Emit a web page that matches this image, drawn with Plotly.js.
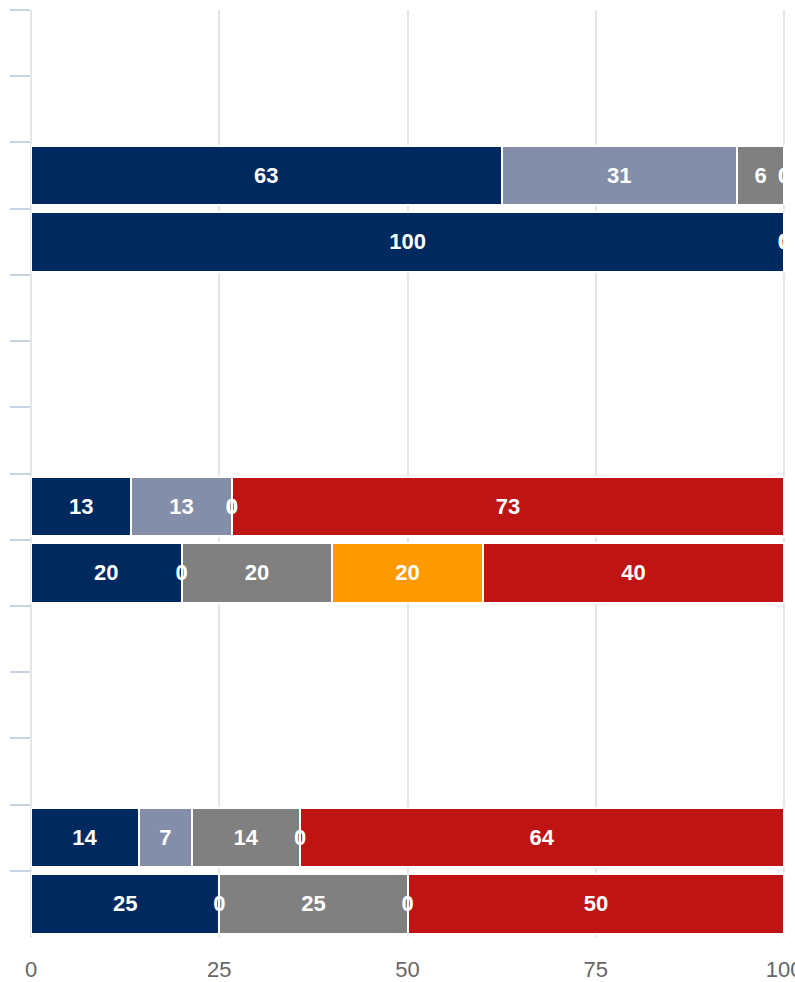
<!DOCTYPE html>
<html>
<head>
<meta charset="utf-8">
<script src="https://cdn.plot.ly/plotly-3.0.1.min.js"></script>
<style>html,body{margin:0;padding:0;background:#fff;}#chart{width:795px;height:982px;}</style>
</head>
<body>
<div id="chart"></div>
<script>
// 14 rows, top to bottom (empty rows have no data)
var categories = ['r1','r2','r3','r4','r5','r6','r7','r8','r9','r10','r11','r12','r13','r14'];

// Shares (%) per row for each series; null = no bar in that row
var seriesA = [null, null, 62.5, 100, null, null, null, 13.33, 20, null, null, null, 14.29, 25];
var seriesB = [null, null, 31.25, 0, null, null, null, 13.33, 0, null, null, null, 7.14, 0];
var seriesC = [null, null, 6.25, 0, null, null, null, 0, 20, null, null, null, 14.29, 25];
var seriesD = [null, null, 0, 0, null, null, null, 0, 20, null, null, null, 0, 0];
var seriesE = [null, null, 0, 0, null, null, null, 73.33, 40, null, null, null, 64.29, 50];

var seriesNames = ['A', 'B', 'C', 'D', 'E'];
var seriesColors = ['#002a5f', '#848ea8', '#808080', '#ff9900', '#be1414'];
var xTicks = [0, 25, 50, 75, 100];

var allSeries = [seriesA, seriesB, seriesC, seriesD, seriesE];

// zero shares get a vanishing width so their "0" label is still drawn
function drawVals(vals) { return vals.map(function (v) { return v === 0 ? 0.01 : v; }); }
function labelVals(vals) { return vals.map(function (v) { return v === null ? '' : String(Math.round(v)); }); }

var barTraces = allSeries.map(function (vals, k) {
  return {
    type: 'bar',
    orientation: 'h',
    name: seriesNames[k],
    y: categories,
    x: drawVals(vals),
    textposition: 'none',
    marker: { color: seriesColors[k], line: { color: '#ffffff', width: 2 } },
    hoverinfo: 'none',
    xaxis: 'x',
    yaxis: 'y'
  };
});

// same stacks on an overlaying axis, carrying only the labels so they sit above every bar
var labelTraces = allSeries.map(function (vals, k) {
  return {
    type: 'bar',
    orientation: 'h',
    name: seriesNames[k] + ' labels',
    y: categories,
    x: drawVals(vals),
    text: labelVals(vals),
    texttemplate: '%{text}',
    textposition: 'inside',
    insidetextanchor: 'middle',
    constraintext: 'none',
    cliponaxis: true,
    textfont: { color: '#ffffff', size: 22, family: 'Liberation Sans, Arial, sans-serif', weight: 'bold' },
    marker: { color: 'rgba(0,0,0,0)', line: { width: 0 } },
    hoverinfo: 'none',
    xaxis: 'x',
    yaxis: 'y2'
  };
});

var yBase = {
  type: 'category',
  categoryorder: 'array',
  categoryarray: categories,
  range: [categories.length - 0.5, -0.5],
  showticklabels: false,
  showgrid: false,
  zeroline: false,
  showline: false,
  fixedrange: true
};

var yMain = Object.assign({}, yBase, {
  tickson: 'boundaries',
  ticks: 'outside',
  ticklen: 20,
  tickwidth: 2,
  tickcolor: '#c8d4e3'
});

var yOverlay = Object.assign({}, yBase, {
  overlaying: 'y',
  ticks: ''
});

var layout = {
  width: 795,
  height: 982,
  margin: { l: 31, r: 9, t: 10, b: 45, pad: 0 },
  barmode: 'stack',
  bargap: 0.1,
  showlegend: false,
  paper_bgcolor: '#ffffff',
  plot_bgcolor: '#ffffff',
  xaxis: {
    range: [0, 100.26],
    tickmode: 'array',
    tickvals: xTicks,
    ticktext: xTicks.map(String),
    showgrid: true,
    gridcolor: '#e5e5e5',
    gridwidth: 2,
    zeroline: true,
    zerolinecolor: '#e5e5e5',
    zerolinewidth: 2,
    showline: false,
    ticks: 'outside',
    ticklen: 13,
    tickcolor: 'rgba(0,0,0,0)',
    ticklabeloverflow: 'allow',
    tickfont: { size: 22, color: '#666666', family: 'Liberation Sans, Arial, sans-serif' },
    fixedrange: true
  },
  yaxis: yMain,
  yaxis2: yOverlay
};

Plotly.newPlot('chart', barTraces.concat(labelTraces), layout, { displayModeBar: false, responsive: false });
</script>
</body>
</html>
